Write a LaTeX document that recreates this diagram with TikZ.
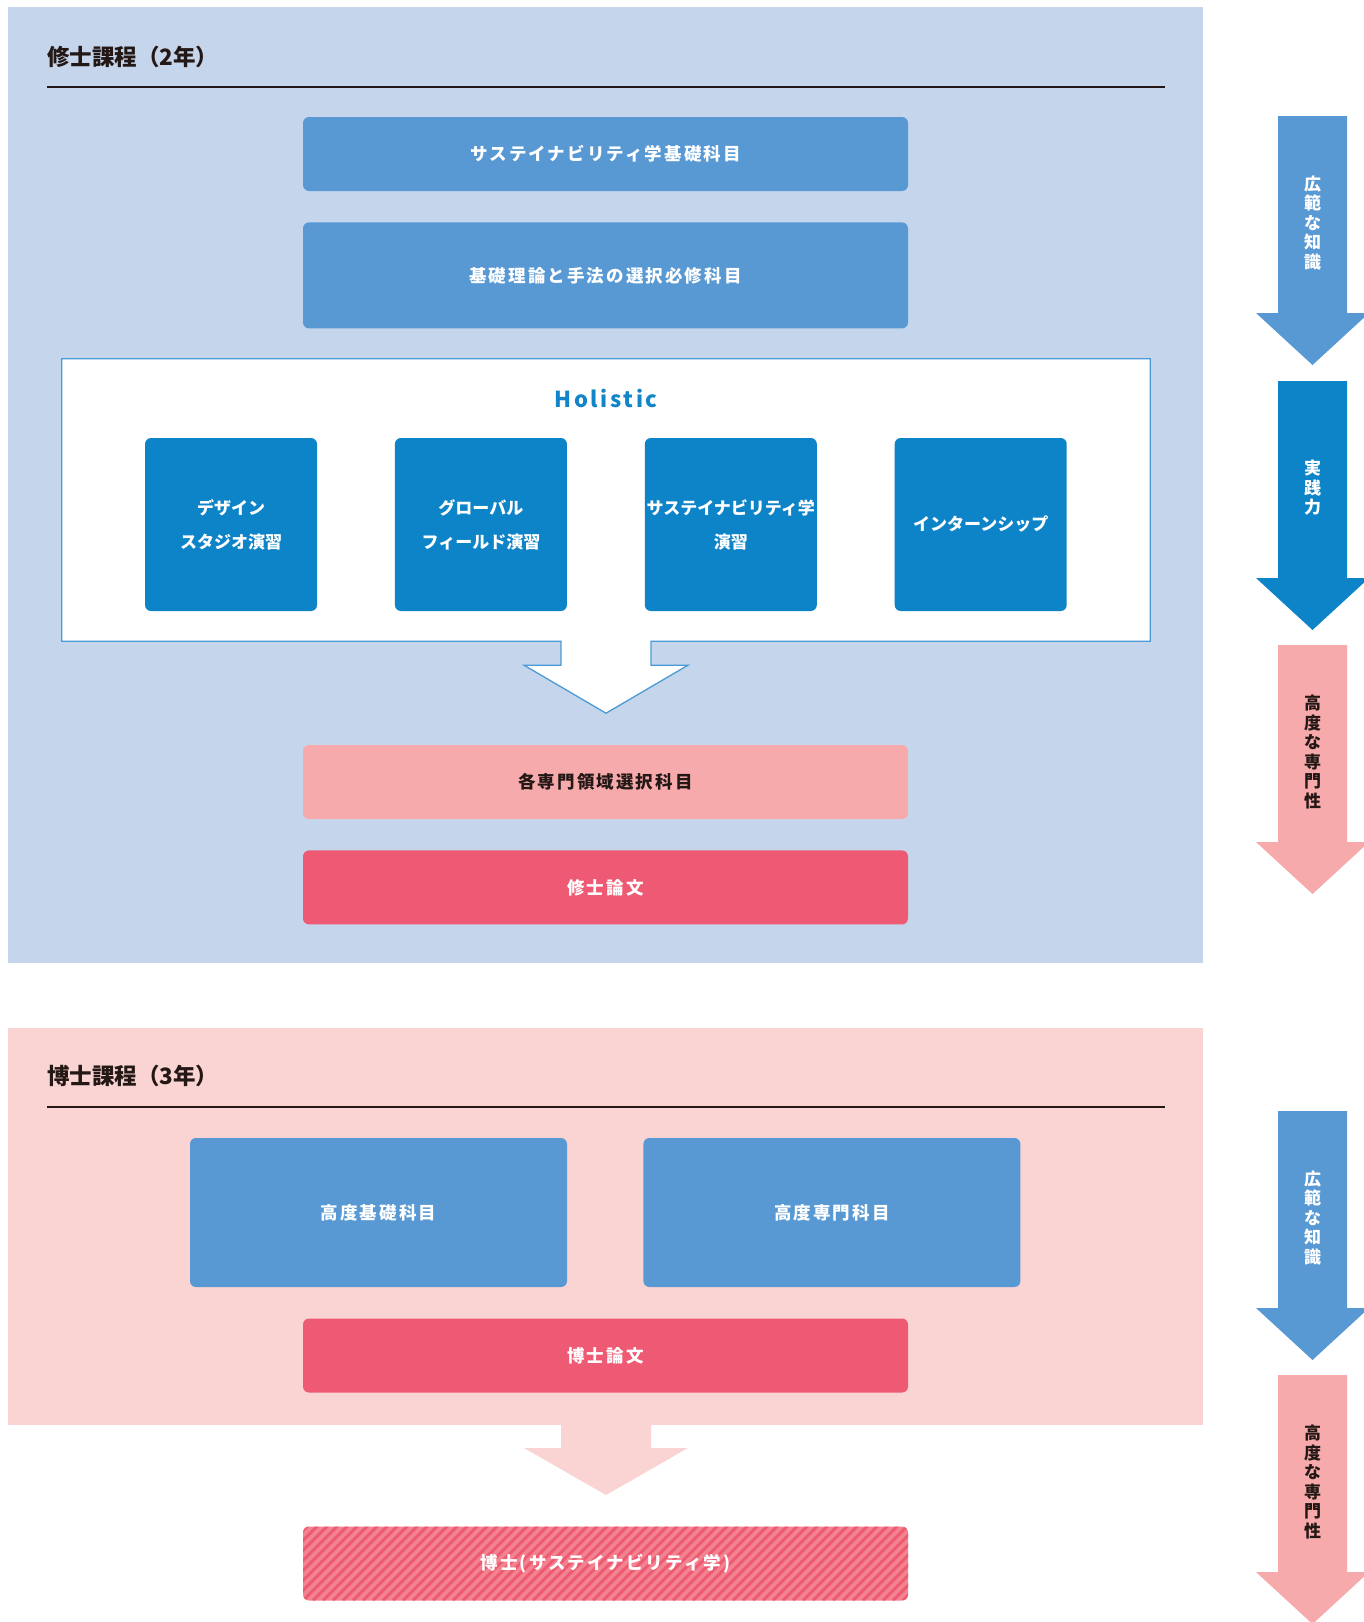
\documentclass[tikz,border=0pt]{standalone}
\usepackage{fontspec}
\newfontfamily\jp{Noto Sans CJK JP}
\newfontfamily\jpls{Noto Sans CJK JP}[LetterSpace=12]
\usetikzlibrary{positioning, calc}
\definecolor{panelblue}{HTML}{C5D6EC}
\definecolor{midblue}{HTML}{5899D4}
\definecolor{deepblue}{HTML}{0E84C8}
\definecolor{lightpink}{HTML}{F6AAAB}
\definecolor{rosered}{HTML}{EE5A73}
\definecolor{panelpink}{HTML}{FAD4D2}
\definecolor{hatchpink}{HTML}{F3838E}
\definecolor{inkdark}{HTML}{231815}
\definecolor{waku}{HTML}{4A9AD6}
\definecolor{holiblue}{HTML}{1185C8}
\tikzset{
  kamoku/.style  = {rectangle, rounded corners=6pt, minimum width=605pt, minimum height=74pt, inner sep=0pt, text=white, font=\jpls\bfseries\fontsize{17.5}{20}\selectfont},
  kiban/.style   = {kamoku, fill=midblue},
  senmon/.style  = {kamoku, fill=lightpink, text=inkdark},
  ronbun/.style  = {kamoku, fill=rosered},
  enshu/.style   = {rectangle, rounded corners=6pt, fill=deepblue, minimum width=172pt, minimum height=173pt, inner sep=0pt, align=center, text=white, font=\jp\bfseries\fontsize{17}{34}\selectfont},
  katei/.style   = {anchor=west, inner sep=0pt, text=inkdark, font=\jp\bfseries\fontsize{22.5}{26}\selectfont},
  keisen/.style  = {line width=1.5pt, draw=inkdark},
  tate/.style    = {align=center, inner sep=0pt, font=\jp\bfseries\fontsize{17}{19.5}\selectfont}
}

\begin{document}
\begin{tikzpicture}[x=1pt, y=-1pt]
  \useasboundingbox (0,0) rectangle (1364,1622);

  % 修士課程
  \fill[panelblue] (8,7) rectangle (1203,963);
  \node[katei] (shushi) at (47,57) {修士課程（2年）};
  \draw[keisen] (47,87) -- (1165,87);

  \node[kiban] (kisokamoku) at (605.5,154) {サステイナビリティ学基礎科目};
  \node[kiban, minimum height=106pt, below=31pt of kisokamoku] (hisshu) {基礎理論と手法の選択必修科目};

  % Holistic (枠と白抜き矢印)
  \node[minimum width=1088pt, minimum height=282pt, inner sep=0pt] (holiwaku) at (606,500) {};
  \filldraw[fill=white, draw=waku, line width=1.3pt]
    (holiwaku.south west) -- (holiwaku.north west) -- (holiwaku.north east) -- (holiwaku.south east)
    -- ($(holiwaku.south)+(45,0)$) -- ++(0,24) -- ++(37,0) -- ($(holiwaku.south)+(0,72)$)
    -- ++(-82,-48) -- ++(37,0) -- ++(0,-24) -- cycle;
  \node[text=holiblue, font=\jpls\bfseries\fontsize{22}{25}\selectfont] (holistic) at (606,399) {Holistic};

  \node[enshu] (design) at (231,524.5) {デザイン\\スタジオ演習};
  \node[enshu, right=77.5pt of design] (global) {グローバル\\フィールド演習};
  \node[enshu, right=77.5pt of global] (sustain) {サステイナビリティ学\\演習};
  \node[enshu, right=77.5pt of sustain] (intern) {インターンシップ};

  \node[senmon] (ryoiki) at (605.5,782) {各専門領域選択科目};
  \node[ronbun, below=31pt of ryoiki] (shuron) {修士論文};

  % 博士課程
  \fill[panelpink] (8,1028) rectangle (1203,1425);
  \node[katei] (hakase) at (47,1076) {博士課程（3年）};
  \draw[keisen] (47,1107) -- (1165,1107);

  \node[kiban, minimum width=377pt, minimum height=149pt] (kodokiso) at (378.5,1212.5) {高度基礎科目};
  \node[kiban, minimum width=377pt, minimum height=149pt, right=76pt of kodokiso] (kodosenmon) {高度専門科目};
  \node[ronbun] (hakuron) at (605.5,1355.5) {博士論文};

  \fill[panelpink] (561,1424) -- (651,1424) -- (651,1448) -- (688,1448) -- (606,1495)
    -- (524,1448) -- (561,1448) -- cycle;

  \node[kamoku, fill=hatchpink, path picture={
      \foreach \k in {-9,...,62}
        \draw[rosered, line width=3pt] ([xshift=\k*10pt]path picture bounding box.south west) -- ++(85pt,85pt);
    }] (hakushi) at (605.5,1563.5) {博士(サステイナビリティ学)};

  % 右側の矢印
  \foreach \ay/\col/\tc/\txt [count=\i] in {
      116/midblue/white/{広\\範\\な\\知\\識},
      381/deepblue/white/{実\\践\\力},
      645/lightpink/inkdark/{高\\度\\な\\専\\門\\性},
      1111/midblue/white/{広\\範\\な\\知\\識},
      1375/lightpink/inkdark/{高\\度\\な\\専\\門\\性}} {
    \fill[\col] (1278,\ay) -- ++(69,0) -- ++(0,197) -- ++(22,0) -- (1312.5,\ay+249)
      -- (1256,\ay+197) -- ++(22,0) -- cycle;
    \node[tate, text=\tc] (yajirushi\i) at (1312.5,\ay+107) {\txt};
  }

\end{tikzpicture}
\end{document}
